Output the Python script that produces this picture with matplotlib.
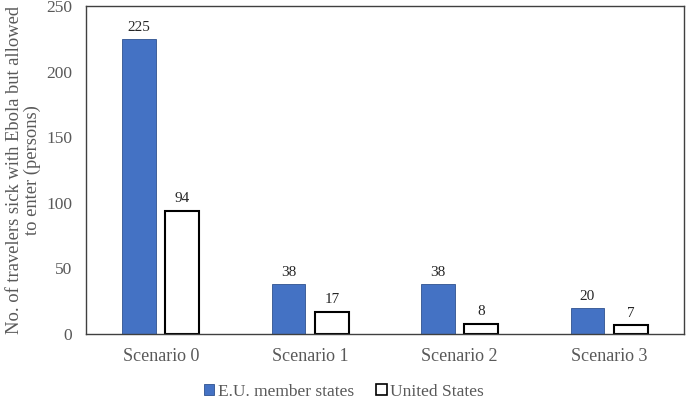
import numpy as np
import matplotlib.pyplot as plt
from matplotlib.patches import Patch

scenarios = ["Scenario 0", "Scenario 1", "Scenario 2", "Scenario 3"]
eu_values = [225, 38, 38, 20]
us_values = [94, 17, 8, 7]
series_names = ["E.U. member states", "United States"]

plt.rcParams['font.family'] = ['Liberation Serif', 'DejaVu Serif']

fig = plt.figure(figsize=(6.88, 4.00), dpi=100)
ax = fig.add_axes([0.125, 0.165, 0.869, 0.82])

x = np.arange(len(scenarios))
w = 0.227
off = 0.145
blue = '#4472C4'
grey = '#595959'

b1 = ax.bar(x - off, eu_values, w, color=blue, edgecolor='#2F528F', linewidth=0.6)
b2 = ax.bar(x + off, us_values, w, color='white', edgecolor='black', linewidth=1.5)

for rect, v in zip(b1, eu_values):
    ax.text(rect.get_x() + rect.get_width() / 2, v + 4, str(v), ha='center', va='bottom', fontsize=11, color='#262626')
for rect, v in zip(b2, us_values):
    ax.text(rect.get_x() + rect.get_width() / 2, v + 4, str(v), ha='center', va='bottom', fontsize=11, color='#262626')

ax.set_xlim(-0.5, 3.5)
ax.set_ylim(0, 250)
ax.set_yticks(np.arange(0, 251, 50))
ax.set_xticks(x)
ax.set_xticklabels(scenarios, fontsize=13)
ax.tick_params(axis='y', labelsize=12.5, length=0, pad=10, labelcolor=grey)
ax.tick_params(axis='x', length=0, pad=10, labelcolor=grey)
for s in ax.spines.values():
    s.set_color('#404040')
    s.set_linewidth(1.0)

ax.set_ylabel("No. of travelers sick with Ebola but allowed\nto enter (persons)", fontsize=13.3, color=grey,
              linespacing=1.1)
ax.yaxis.set_label_coords(-0.075, 0.5)

handles = [Patch(facecolor=blue, edgecolor='#2F528F', linewidth=0.6),
           Patch(facecolor='white', edgecolor='black', linewidth=1.2)]
fig.legend(handles, series_names, loc='center', bbox_to_anchor=(0.5, 0.02), ncol=2, frameon=False,
           fontsize=12.5, handlelength=0.6, handleheight=0.6, handletextpad=0.2, columnspacing=1.3,
           labelcolor=grey)

fig.savefig('out.png', dpi=100)
